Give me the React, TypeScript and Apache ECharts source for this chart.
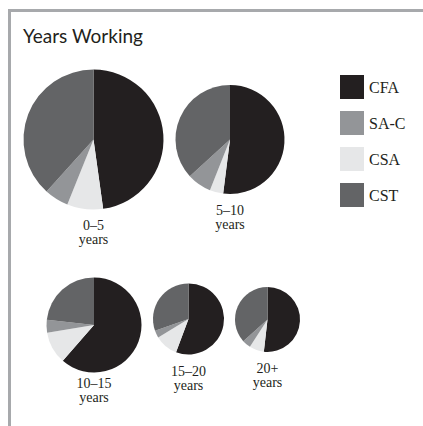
import React, { useEffect, useRef } from "react";
import * as echarts from "echarts";

const TITLE = "Years Working";
const SEGMENTS = ["CFA", "CSA", "SA-C", "CST"];
const LEGEND_ORDER = ["CFA", "SA-C", "CSA", "CST"];
const GROUPS = ["0–5\nyears", "5–10\nyears", "10–15\nyears", "15–20\nyears", "20+\nyears"];
const CFA = [47.8, 52.0, 61.4, 55.7, 51.8];
const CSA = [8.3, 4.0, 11.0, 10.6, 7.3];
const SAC = [5.6, 7.2, 4.4, 3.3, 4.3];
const CST = [38.3, 36.8, 23.2, 30.4, 36.6];

const COLORS: Record<string, string> = {
  CFA: "#231f20",
  "SA-C": "#939598",
  CSA: "#e6e7e8",
  CST: "#636466",
};

// layout (pixels)
const CENTERS: [number, number][] = [
  [93.5, 139.5],
  [230, 139.5],
  [94, 325],
  [188.5, 319],
  [267.5, 319.5],
];
const RADII = [70, 54.5, 47.5, 35.5, 32.5];
const LABEL_TOPS = [218, 203, 376, 364, 361];

export default function App() {
  const ref = useRef<HTMLDivElement>(null);
  useEffect(() => {
    if (!ref.current) return;
    const chart = echarts.init(ref.current, undefined, { renderer: "svg" });
    const series = GROUPS.map((g, i) => ({
      type: "pie" as const,
      name: g,
      center: CENTERS[i],
      radius: RADII[i],
      startAngle: 90,
      clockwise: true,
      label: { show: false },
      labelLine: { show: false },
      emphasis: { disabled: true },
      silent: true,
      itemStyle: { borderWidth: 0 },
      data: SEGMENTS.map((s) => ({
        name: s,
        value: s === "CFA" ? CFA[i] : s === "CSA" ? CSA[i] : s === "SA-C" ? SAC[i] : CST[i],
        itemStyle: { color: COLORS[s] },
      })),
    }));
    const labels = GROUPS.map((g, i) => ({
      type: "text" as const,
      x: CENTERS[i][0],
      y: LABEL_TOPS[i],
      style: {
        text: g,
        fill: "#231f20",
        font: "14px 'Liberation Serif', serif",
        lineHeight: 14,
        align: "center",
        verticalAlign: "top",
      },
    }));
    chart.setOption({
      animation: false,
      legend: {
        orient: "vertical",
        left: 335,
        top: 70,
        itemWidth: 24,
        itemHeight: 24,
        itemGap: 12,
        icon: "rect",
        selectedMode: false,
        data: LEGEND_ORDER,
        textStyle: {
          fontFamily: "'Liberation Serif', serif",
          fontSize: 16,
          color: "#231f20",
        },
      },
      series,
      graphic: [
        { type: "rect", shape: { x: 8, y: 9, width: 3, height: 430 }, style: { fill: "#a7a9ac" } },
        { type: "rect", shape: { x: 8, y: 9, width: 430, height: 3 }, style: { fill: "#a7a9ac" } },
        {
          type: "text",
          x: 23,
          y: 26,
          style: {
            text: TITLE,
            fill: "#231f20",
            font: "19px Lato, sans-serif",
            verticalAlign: "top",
          },
        },
        ...labels,
      ],
    });
    return () => chart.dispose();
  }, []);
  return (
    <div
      ref={ref}
      style={{ position: "absolute", left: 0, top: 0, width: 423, height: 426, background: "#fff" }}
    />
  );
}
